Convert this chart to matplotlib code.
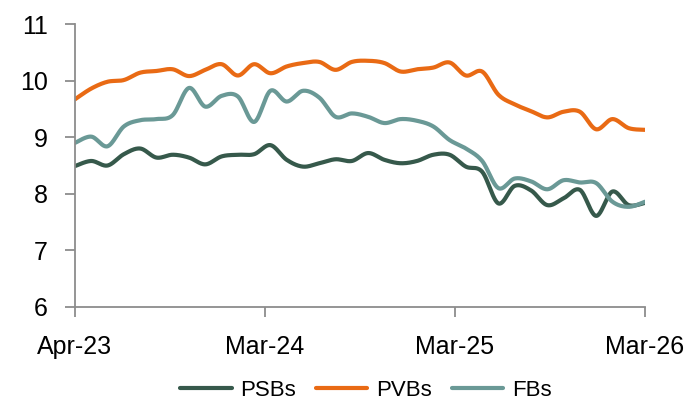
import matplotlib.pyplot as plt
import numpy as np

# monthly readings, Apr-23 .. Mar-26
tick_labels = ['Apr-23', 'Mar-24', 'Mar-25', 'Mar-26']
psbs = [8.49, 8.58, 8.50, 8.70, 8.80, 8.64, 8.69, 8.64, 8.52, 8.66,
        8.69, 8.70, 8.86, 8.60, 8.48, 8.54, 8.61, 8.58, 8.72, 8.60,
        8.54, 8.58, 8.69, 8.69, 8.48, 8.39, 7.83, 8.14, 8.06, 7.80,
        7.92, 8.07, 7.61, 8.04, 7.80, 7.84]
pvbs = [9.67, 9.86, 9.98, 10.01, 10.14, 10.17, 10.20, 10.08, 10.19, 10.29,
        10.09, 10.29, 10.13, 10.25, 10.31, 10.33, 10.19, 10.33, 10.35, 10.31,
        10.16, 10.20, 10.23, 10.32, 10.09, 10.16, 9.75, 9.58, 9.46, 9.35,
        9.45, 9.45, 9.14, 9.32, 9.16, 9.13]
fbs = [8.90, 9.01, 8.84, 9.19, 9.30, 9.32, 9.39, 9.87, 9.54, 9.73,
       9.72, 9.27, 9.82, 9.63, 9.82, 9.70, 9.36, 9.42, 9.36, 9.25,
       9.32, 9.29, 9.19, 8.95, 8.80, 8.58, 8.10, 8.27, 8.22, 8.08,
       8.24, 8.20, 8.19, 7.86, 7.77, 7.86]


def smooth(values, steps=24):
    # Excel style smoothed line: cubic bezier through every point
    y = np.asarray(values, dtype=float)
    x = np.arange(len(y), dtype=float)
    px = np.concatenate([[x[0]], x, [x[-1]]])
    py = np.concatenate([[y[0]], y, [y[-1]]])
    t = np.linspace(0, 1, steps, endpoint=False)
    xs, ys = [], []
    for i in range(len(y) - 1):
        for p, out in ((px, xs), (py, ys)):
            p0, p1, p2, p3 = p[i], p[i + 1], p[i + 2], p[i + 3]
            c1 = p1 + (p2 - p0) / 6
            c2 = p2 - (p3 - p1) / 6
            out.extend((1 - t) ** 3 * p1 + 3 * (1 - t) ** 2 * t * c1
                       + 3 * (1 - t) * t ** 2 * c2 + t ** 3 * p2)
    xs.append(x[-1])
    ys.append(y[-1])
    return xs, ys


plt.rcParams['font.family'] = ['Liberation Sans', 'DejaVu Sans']

fig = plt.figure(figsize=(6.98, 4.03), dpi=100)
ax = fig.add_axes([75 / 698, 1 - 307 / 403, 570 / 698, 283 / 403])

series = [('PSBs', psbs, '#36594b'), ('PVBs', pvbs, '#e96a14'), ('FBs', fbs, '#6a9996')]
for name, vals, col in series:
    sx, sy = smooth(vals)
    ax.plot(sx, sy, color=col, lw=3, label=name, solid_capstyle='round')

n = len(psbs) - 1
ax.set_xlim(0, n)
ax.set_ylim(6, 11)
ax.set_xticks([0, n / 3, 2 * n / 3, n])
ax.set_xticklabels(tick_labels)
ax.set_yticks(range(6, 12))

for side in ('top', 'right'):
    ax.spines[side].set_visible(False)
for side in ('left', 'bottom'):
    ax.spines[side].set_color('#8c8c8c')
    ax.spines[side].set_linewidth(1.3)
ax.tick_params(axis='both', colors='#8c8c8c', width=1.3, length=7.5,
               labelsize=18, labelcolor='black')
ax.tick_params(axis='x', pad=13)
ax.tick_params(axis='y', pad=12)

fig.legend(loc='center', bbox_to_anchor=(366 / 698, 1 - 390 / 403), ncol=3,
           frameon=False, fontsize=16, handlelength=2.3, handletextpad=0.4,
           columnspacing=0.9, borderpad=0)

fig.savefig('out.png', dpi=100)
